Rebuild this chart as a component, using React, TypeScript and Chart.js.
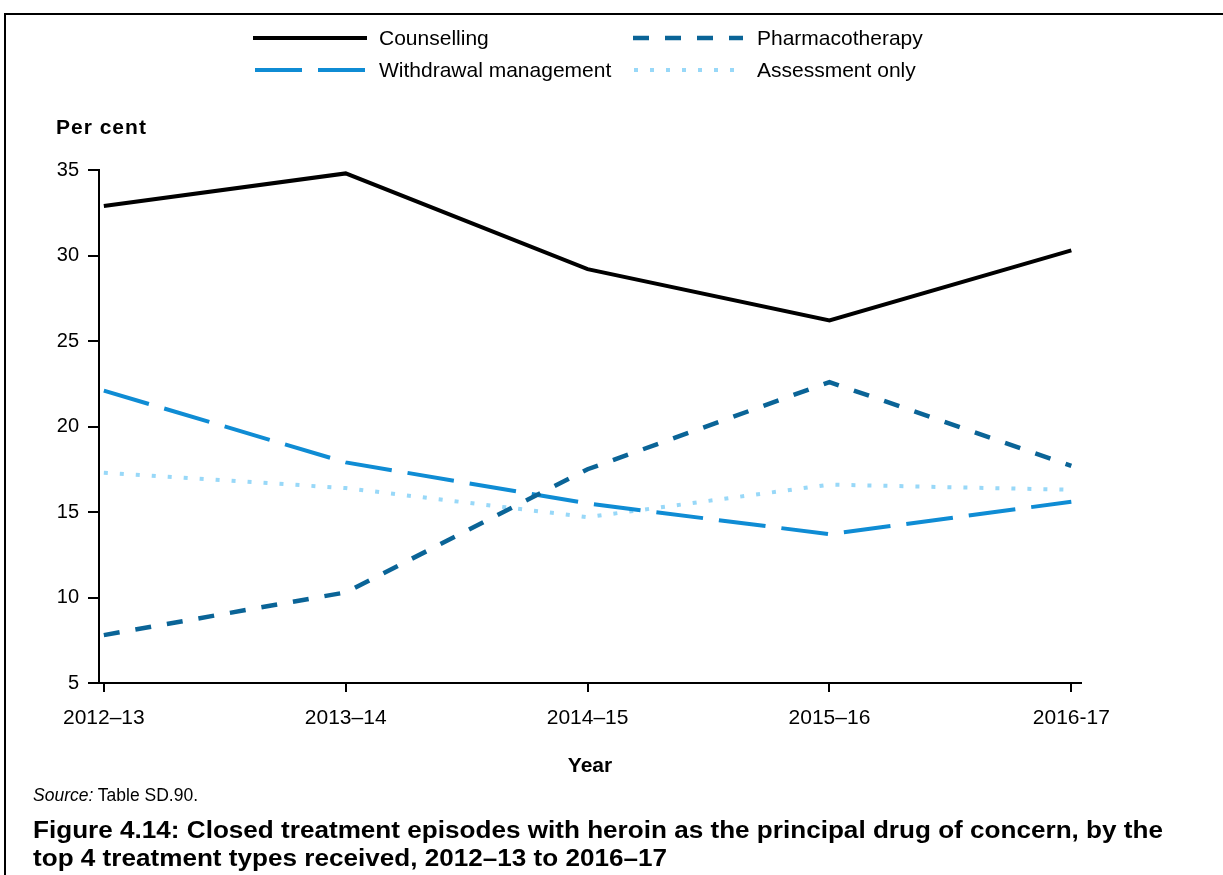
import React, { useEffect, useRef } from 'react';
import { Chart, registerables } from 'chart.js';

Chart.register(...registerables);

const years = ['2012–13', '2013–14', '2014–15', '2015–16', '2016-17'];
const counselling = [32.9, 34.8, 29.2, 26.2, 30.3];
const pharmacotherapy = [7.8, 10.3, 17.5, 22.6, 17.7];
const withdrawal = [22.1, 17.9, 15.5, 13.7, 15.6];
const assessment = [17.3, 16.4, 14.7, 16.6, 16.3];
const seriesNames = ['Counselling', 'Pharmacotherapy', 'Withdrawal management', 'Assessment only'];
const yMin = 5;
const yMax = 35;
const yStep = 5;

const FONT = '"Liberation Sans", Arial, Helvetica, sans-serif';

const legendLayout = [
  { lineX: 253, lineW: 114, textX: 379, y: 38 },
  { lineX: 633, lineW: 110, textX: 757, y: 38 },
  { lineX: 255, lineW: 110, textX: 379, y: 70 },
  { lineX: 634, lineW: 110, textX: 757, y: 70 },
];

const customPlugin = {
  id: 'customDecor',
  afterDraw(chart: any) {
    const ctx = chart.ctx;
    ctx.save();
    chart.data.datasets.forEach((ds: any, i: number) => {
      const l = legendLayout[i];
      ctx.beginPath();
      ctx.strokeStyle = ds.borderColor;
      ctx.lineWidth = ds.borderWidth;
      ctx.lineCap = 'butt';
      ctx.setLineDash(ds.borderDash || []);
      ctx.moveTo(l.lineX, l.y);
      ctx.lineTo(l.lineX + l.lineW, l.y);
      ctx.stroke();
      ctx.setLineDash([]);
      ctx.fillStyle = '#000';
      ctx.font = `21px ${FONT}`;
      ctx.textAlign = 'left';
      ctx.textBaseline = 'middle';
      ctx.fillText(ds.label, l.textX, l.y + 1);
    });
    ctx.font = `bold 21px ${FONT}`;
    ctx.fillStyle = '#000';
    ctx.textAlign = 'left';
    ctx.textBaseline = 'middle';
    try {
      (ctx as any).letterSpacing = '1px';
    } catch (e) {}
    ctx.fillText('Per cent', 56, 128);
    try {
      (ctx as any).letterSpacing = '0px';
    } catch (e) {}
    ctx.restore();
  },
};

export default function App() {
  const canvasRef = useRef<HTMLCanvasElement | null>(null);

  useEffect(() => {
    document.body.style.margin = '0';
    const canvas = canvasRef.current;
    if (!canvas) return;
    const chart = new Chart(canvas, {
      type: 'line',
      data: {
        datasets: [
          {
            label: seriesNames[0],
            data: counselling.map((v, i) => ({ x: i, y: v })),
            borderColor: '#000000',
            borderWidth: 4,
            borderDash: [],
          },
          {
            label: seriesNames[1],
            data: pharmacotherapy.map((v, i) => ({ x: i, y: v })),
            borderColor: '#0a6497',
            borderWidth: 4.5,
            borderDash: [16, 16],
          },
          {
            label: seriesNames[2],
            data: withdrawal.map((v, i) => ({ x: i, y: v })),
            borderColor: '#0f8cd4',
            borderWidth: 4,
            borderDash: [47, 16],
          },
          {
            label: seriesNames[3],
            data: assessment.map((v, i) => ({ x: i, y: v })),
            borderColor: '#98d8f8',
            borderWidth: 4,
            borderDash: [4, 12],
          },
        ] as any,
      },
      options: {
        animation: false,
        responsive: false,
        devicePixelRatio: 1,
        layout: { padding: { left: 0, top: 170, right: 142, bottom: 0 } },
        elements: {
          line: { tension: 0, fill: false, borderCapStyle: 'butt', borderJoinStyle: 'miter' },
          point: { radius: 0, hoverRadius: 0 },
        },
        plugins: {
          legend: { display: false },
          tooltip: { enabled: false },
          title: { display: false },
        },
        scales: {
          x: {
            type: 'linear',
            min: -0.02,
            max: 4.04,
            afterBuildTicks: (scale: any) => {
              scale.ticks = years.map((_, i) => ({ value: i }));
            },
            afterFit: (scale: any) => {
              scale.height = 192;
            },
            grid: {
              display: true,
              drawOnChartArea: false,
              drawTicks: true,
              tickLength: 9,
              color: '#000',
              lineWidth: 2,
            },
            border: { display: true, color: '#000', width: 2 },
            ticks: {
              autoSkip: false,
              maxRotation: 0,
              minRotation: 0,
              padding: 14,
              color: '#000',
              font: { family: FONT, size: 21 },
              callback: (v: any) => years[Math.round(Number(v))] ?? '',
            },
            title: {
              display: true,
              text: 'Year',
              color: '#000',
              font: { family: FONT, size: 21, weight: 'bold' },
              padding: { top: 0, bottom: 96.4 },
            },
          },
          y: {
            type: 'linear',
            min: yMin,
            max: yMax,
            afterFit: (scale: any) => {
              scale.width = 99;
            },
            grid: {
              display: true,
              drawOnChartArea: false,
              drawTicks: true,
              tickLength: 11,
              color: '#000',
              lineWidth: 2,
            },
            border: { display: true, color: '#000', width: 2 },
            ticks: {
              stepSize: yStep,
              padding: 9,
              color: '#000',
              font: { family: FONT, size: 20 },
            },
          },
        },
      } as any,
      plugins: [customPlugin],
    });
    return () => chart.destroy();
  }, []);

  return (
    <div style={{ position: 'relative', width: 1223, height: 875, overflow: 'hidden', background: '#fff' }}>
      <canvas ref={canvasRef} width={1223} height={875} style={{ position: 'absolute', left: 0, top: 0 }} />
      <div
        style={{
          position: 'absolute',
          left: 4,
          top: 13,
          width: 1300,
          height: 1000,
          border: '2px solid #000',
          pointerEvents: 'none',
        }}
      />
      <div
        style={{
          position: 'absolute',
          left: 33,
          top: 784,
          fontFamily: FONT,
          fontSize: 17.5,
          lineHeight: '22px',
          color: '#000',
          whiteSpace: 'nowrap',
        }}
      >
        <i>Source:</i> Table SD.90.
      </div>
      <div
        style={{
          position: 'absolute',
          left: 33,
          top: 816,
          fontFamily: FONT,
          fontSize: 23,
          fontWeight: 'bold',
          lineHeight: '28px',
          color: '#000',
          whiteSpace: 'nowrap',
          transform: 'scaleX(1.135)',
          transformOrigin: 'left top',
        }}
      >
        Figure 4.14: Closed treatment episodes with heroin as the principal drug of concern, by the
        <br />
        top 4 treatment types received, 2012–13 to 2016–17
      </div>
    </div>
  );
}
